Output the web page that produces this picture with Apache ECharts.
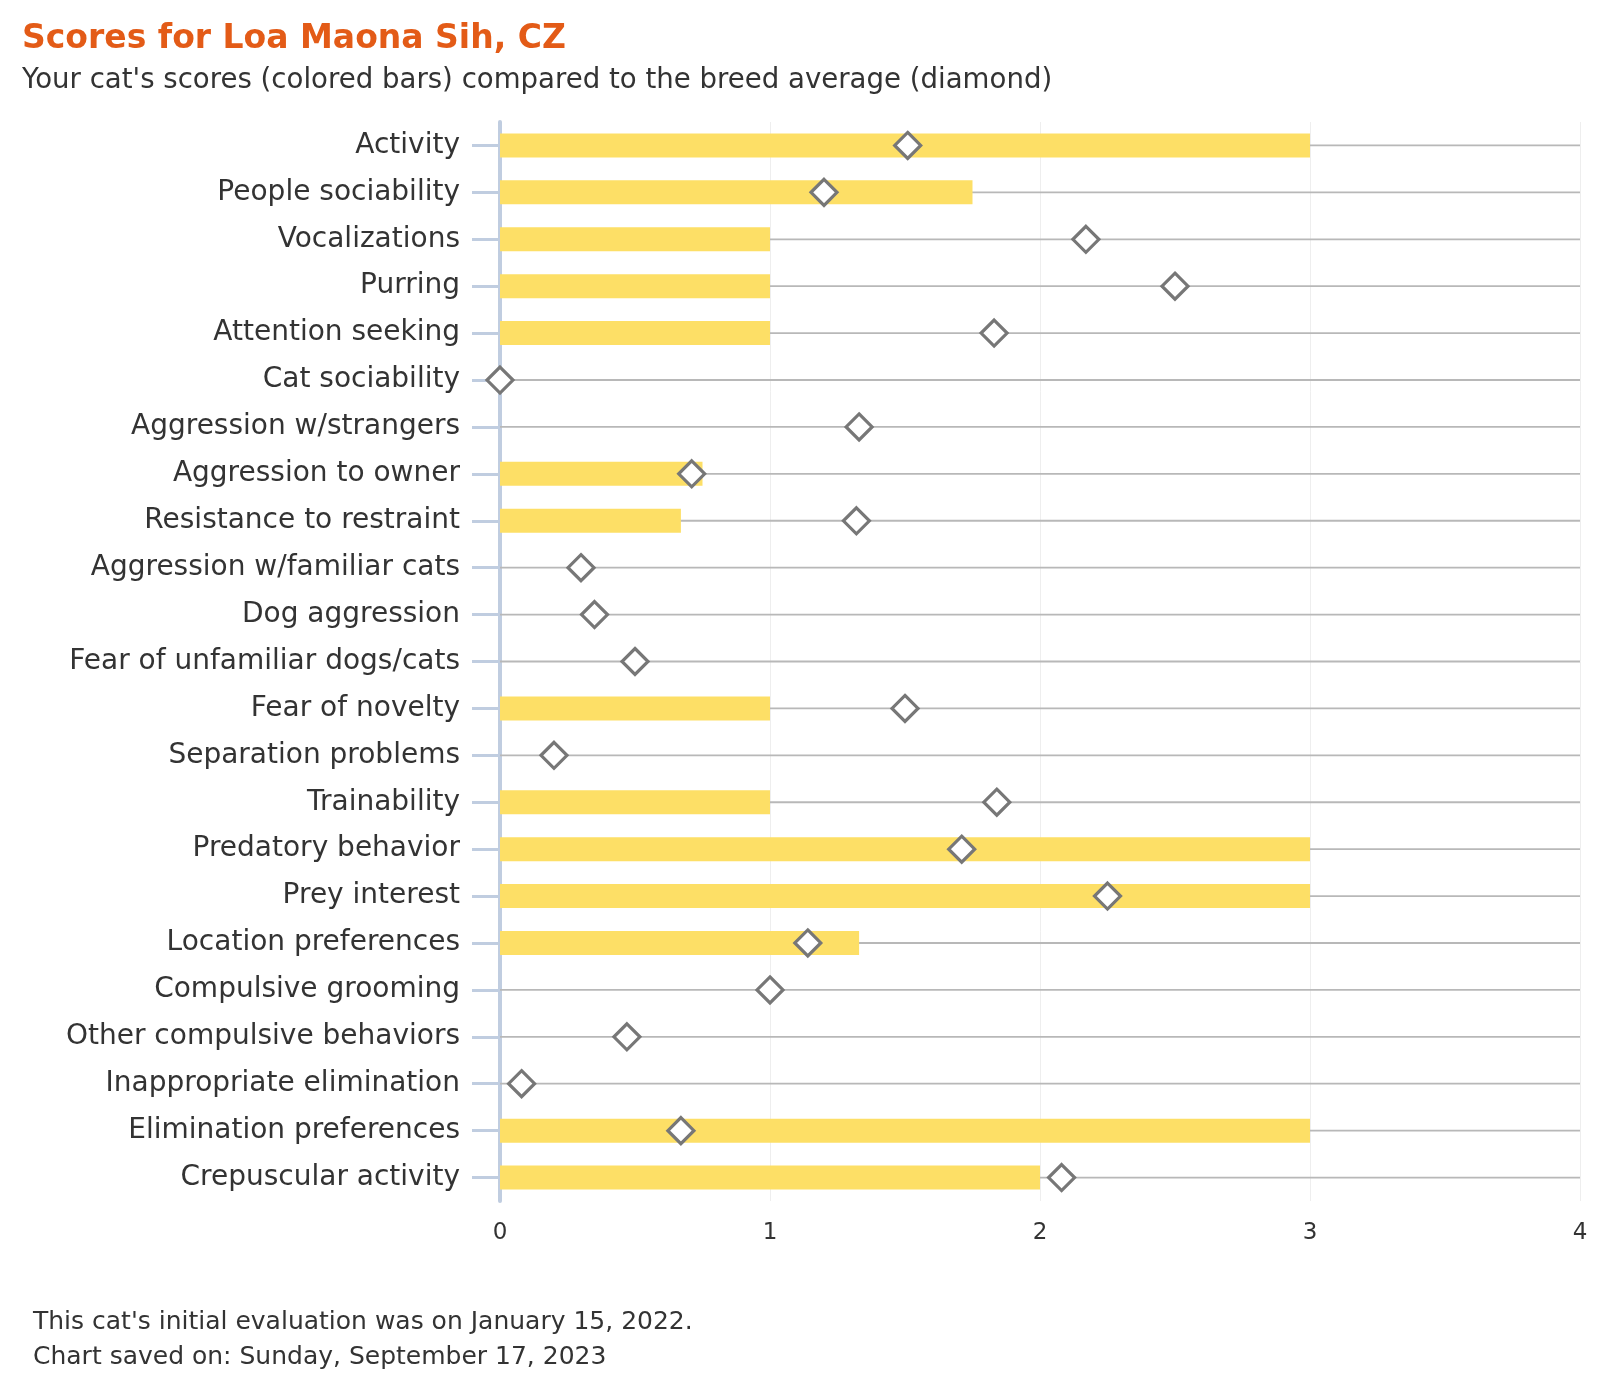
<!DOCTYPE html>
<html>
<head>
<meta charset="utf-8">
<script src="https://cdn.jsdelivr.net/npm/echarts@6/dist/echarts.min.js"></script>
<style>html,body{margin:0;padding:0;background:#fff;}#chart{width:1600px;height:1400px;}</style>
</head>
<body>
<div id="chart"></div>
<script>
const categories = [
  "Activity", "People sociability", "Vocalizations", "Purring", "Attention seeking",
  "Cat sociability", "Aggression w/strangers", "Aggression to owner", "Resistance to restraint",
  "Aggression w/familiar cats", "Dog aggression", "Fear of unfamiliar dogs/cats", "Fear of novelty",
  "Separation problems", "Trainability", "Predatory behavior", "Prey interest",
  "Location preferences", "Compulsive grooming", "Other compulsive behaviors",
  "Inappropriate elimination", "Elimination preferences", "Crepuscular activity"
];
const catScores = [3, 1.75, 1, 1, 1, 0, 0, 0.75, 0.67, 0, 0, 0, 1, 0, 1, 3, 3, 1.33, 0, 0, 0, 3, 2];
const breedAverage = [1.51, 1.2, 2.17, 2.5, 1.83, 0, 1.33, 0.71, 1.32, 0.3, 0.35, 0.5, 1.5, 0.2, 1.84, 1.71, 2.25, 1.14, 1.0, 0.47, 0.08, 0.67, 2.08];
const xTicks = [0, 1, 2, 3, 4];

const FONT = "'DejaVu Sans', sans-serif";
const chart = echarts.init(document.getElementById('chart'), null, {renderer: 'canvas'});
chart.setOption({
  backgroundColor: '#fff',
  animation: false,
  textStyle: {fontFamily: FONT},
  title: [
    {text: 'Scores for Loa Maona Sih, CZ', left: 17, top: 18,
     textStyle: {fontFamily: FONT, fontWeight: 'bold', fontSize: 33, color: '#e35b17'}},
    {text: "Your cat's scores (colored bars) compared to the breed average (diamond)", left: 17, top: 62,
     textStyle: {fontFamily: FONT, fontWeight: 'normal', fontSize: 27.6, color: '#333'}},
    {text: "This cat's initial evaluation was on January 15, 2022.\nChart saved on: Sunday, September 17, 2023", left: 28, top: 1300,
     textStyle: {fontFamily: FONT, fontWeight: 'normal', fontSize: 25, color: '#333', lineHeight: 35}}
  ],
  grid: {left: 500, right: 20, top: 122, bottom: 199, containLabel: false},
  xAxis: {
    type: 'value', min: xTicks[0], max: xTicks[xTicks.length - 1], interval: 1,
    axisLine: {show: false}, axisTick: {show: false},
    axisLabel: {margin: 21, fontSize: 23, color: '#333', fontFamily: FONT},
    splitLine: {show: true, lineStyle: {color: '#eeeeee', width: 1}}
  },
  yAxis: {
    type: 'category', data: categories, inverse: true,
    axisLine: {show: true, lineStyle: {color: '#c0cde0', width: 4}},
    axisTick: {show: true, length: 28, lineStyle: {color: '#c0cde0', width: 3}, alignWithLabel: true},
    axisLabel: {margin: 40, fontSize: 28, color: '#333', fontFamily: FONT},
    splitLine: {show: false}
  },
  series: [
    {
      type: 'custom', z: 1, silent: true,
      renderItem: function (params, api) {
        const idx = api.value(0);
        const p0 = api.coord([xTicks[0], idx]);
        const p1 = api.coord([xTicks[xTicks.length - 1], idx]);
        return {type: 'line', shape: {x1: p0[0], y1: p0[1], x2: p1[0], y2: p1[1]},
                style: {stroke: '#b8b8b8', lineWidth: 1.8}};
      },
      encode: {y: 0},
      data: categories.map((c, i) => [i])
    },
    {
      type: 'bar', z: 2, data: catScores, barWidth: 24,
      itemStyle: {color: '#fddf66'}
    },
    {
      type: 'scatter', z: 3, data: breedAverage.map((v, i) => [v, i]),
      symbol: 'diamond', symbolSize: [26, 26],
      itemStyle: {color: '#fff', borderColor: '#777', borderWidth: 3.2, opacity: 1}
    }
  ]
});
</script>
</body>
</html>
